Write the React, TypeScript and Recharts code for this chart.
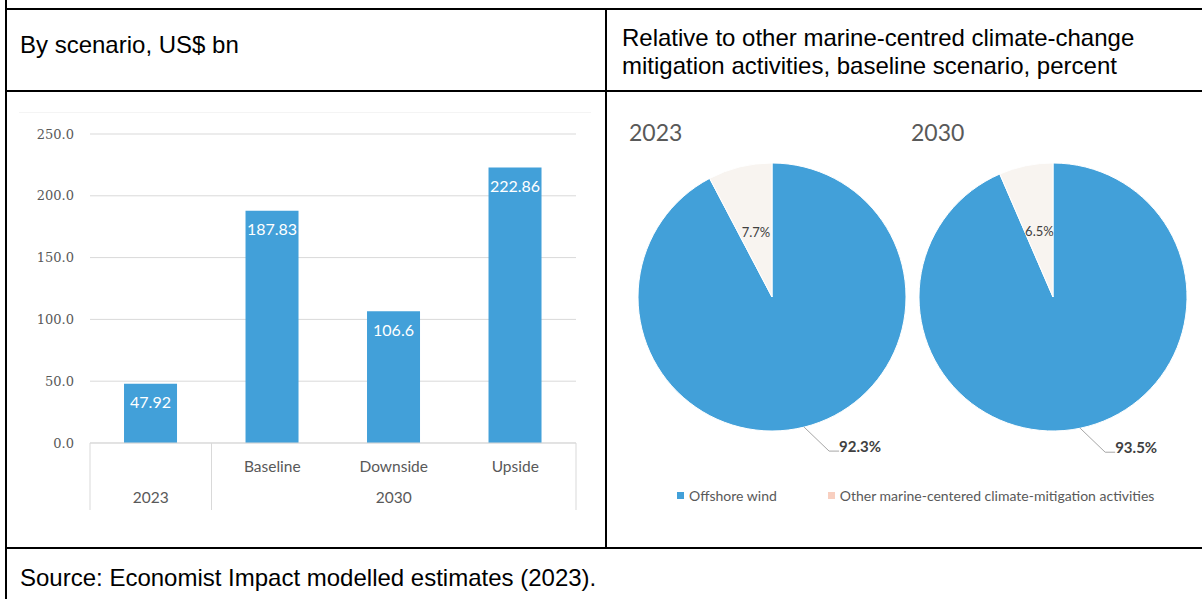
import React from 'react';
import {
  BarChart, Bar, XAxis, YAxis, CartesianGrid, LabelList,
  PieChart, Pie, Cell, Legend,
} from 'recharts';

// bar chart: by scenario, US$ bn
const scenarios = ['', 'Baseline', 'Downside', 'Upside'];
const yearGroups = ['2023', '', '2030', ''];
const scenarioValues = [47.92, 187.83, 106.6, 222.86];
const yTicks = [0, 50, 100, 150, 200, 250];

// pie charts: share of marine-centred climate-change mitigation, percent
const pieYears = ['2023', '2030'];
const shareNames = ['Offshore wind', 'Other marine-centered climate-mitigation activities'];
const shares2023 = [92.3, 7.7];
const shares2030 = [93.5, 6.5];

const BLUE = '#42A0D9';
const CREAM = '#F8F4F0';
const PEACH = '#F8CFC0';
const GREY = '#595959';
const LINE = '#D9D9D9';
const CHART_FONT = 'Lato, "Open Sans", sans-serif';

const barData = scenarios.map((s, i) => ({ scenario: s, group: yearGroups[i], value: scenarioValues[i] }));
const pieData = [shares2023, shares2030].map((vals) =>
  vals.map((v, i) => ({ name: shareNames[i], value: v }))
);
const sliceColors = [BLUE, CREAM];
const legendColors = [BLUE, PEACH];

function ScenarioTick(props: any) {
  const { x, y, payload, index, width, visibleTicksCount } = props;
  const band = width / visibleTicksCount;
  const lines: number[] = [];
  if (index === 0) lines.push(x - band / 2, x + band / 2);
  if (index === visibleTicksCount - 1) lines.push(x + band / 2);
  return (
    <g>
      {lines.map((lx, k) => (
        <line key={k} x1={lx} x2={lx} y1={y - 2} y2={y + 65} stroke={LINE} strokeWidth={1} />
      ))}
      <text x={x} y={y + 21} textAnchor="middle" dominantBaseline="central"
        fill={GREY} fontSize={15.5} fontFamily={CHART_FONT}>
        {payload.value}
      </text>
    </g>
  );
}

function GroupTick(props: any) {
  const { x, y, payload } = props;
  return (
    <text x={x} y={y + 16} textAnchor="middle" dominantBaseline="central"
      fill={GREY} fontSize={15.5} fontFamily={CHART_FONT}>
      {payload.value}
    </text>
  );
}

function renderPieLabel(props: any) {
  const { cx, cy, midAngle, outerRadius, value, index } = props;
  const rad = Math.PI / 180;
  const text = `${Number(value).toFixed(1)}%`;
  if (index === 1) {
    const r = outerRadius * 0.5;
    const lx = cx + r * Math.cos(-midAngle * rad);
    const ly = cy + r * Math.sin(-midAngle * rad);
    return (
      <text x={lx} y={ly} textAnchor="middle" dominantBaseline="central"
        fill="#404040" fontSize={13} fontFamily={CHART_FONT}>
        {text}
      </text>
    );
  }
  const ex = cx + outerRadius * Math.cos(-midAngle * rad);
  const ey = cy + outerRadius * Math.sin(-midAngle * rad);
  const bx = ex + 25;
  const by = ey + 24;
  return (
    <g>
      <polyline points={`${ex},${ey} ${bx},${by} ${bx + 10},${by}`} fill="none" stroke="#A6A6A6" strokeWidth={1} />
      <text x={bx + 10} y={by - 5} textAnchor="start" dominantBaseline="central"
        fill="#404040" fontSize={15} fontWeight="bold" fontFamily={CHART_FONT}>
        {text}
      </text>
    </g>
  );
}

function PieLegend() {
  return (
    <div style={{ display: 'flex', justifyContent: 'flex-start', paddingLeft: 70, fontFamily: CHART_FONT, fontSize: 14, color: GREY, whiteSpace: 'nowrap' }}>
      {shareNames.map((n, i) => (
        <div key={n} style={{ display: 'flex', alignItems: 'center', marginRight: 51, flexShrink: 0 }}>
          <span style={{ display: 'inline-block', width: 7, height: 7, background: legendColors[i], marginRight: 5 }} />
          <span>{n}</span>
        </div>
      ))}
    </div>
  );
}

const hLine = (top: number, left = 5): React.CSSProperties => ({
  position: 'absolute', left, top, width: 1202 - left, height: 2, background: '#000',
});

export default function App() {
  return (
    <div style={{ position: 'absolute', left: 0, top: 0, width: 1202, height: 599, background: '#fff', overflow: 'hidden', fontFamily: '"Liberation Sans", Arial, sans-serif', color: '#000' }}>
      {/* table grid */}
      <div style={{ position: 'absolute', left: 5, top: 0, width: 2, height: 599, background: '#000' }} />
      <div style={hLine(8)} />
      <div style={hLine(90)} />
      <div style={hLine(547)} />
      <div style={{ position: 'absolute', left: 605, top: 8, width: 2, height: 541, background: '#000' }} />

      {/* header cells */}
      <div style={{ position: 'absolute', left: 20, top: 31, fontSize: 24, lineHeight: '28px' }}>By scenario, US$ bn</div>
      <div style={{ position: 'absolute', left: 622, top: 24, fontSize: 24, lineHeight: '28px', width: 575 }}>
        Relative to other marine-centred climate-change<br />mitigation activities, baseline scenario, percent
      </div>

      {/* bar chart */}
      <div style={{ position: 'absolute', left: 19, top: 112, width: 572, height: 1, background: '#F4F4F4' }} />
      <div style={{ position: 'absolute', left: 7, top: 91 }}>
        <BarChart width={599} height={456} data={barData}
          margin={{ top: 43, right: 30, bottom: 36, left: 0 }} barCategoryGap="28%">
          <CartesianGrid vertical={false} stroke={LINE} />
          <YAxis domain={[0, 250]} ticks={yTicks} width={83} axisLine={false} tickLine={false}
            tickSize={0} tickMargin={16} tickFormatter={(v: number) => v.toFixed(1)}
            tick={{ fill: GREY, fontSize: 13, fontFamily: '"DejaVu Serif", serif' }} />
          <XAxis xAxisId={0} dataKey="scenario" height={36} interval={0} tickLine={false} tickSize={0}
            axisLine={{ stroke: LINE }} tick={<ScenarioTick />} />
          <XAxis xAxisId="group" dataKey="group" height={32} interval={0} tickLine={false} tickSize={0}
            axisLine={false} tick={<GroupTick />} />
          <Bar xAxisId={0} dataKey="value" fill={BLUE} isAnimationActive={false}>
            <LabelList dataKey="value" position="insideTop" offset={13} fill="#fff"
              fontSize={16} fontFamily={CHART_FONT} />
          </Bar>
        </BarChart>
      </div>

      {/* pie charts */}
      {pieYears.map((yr, i) => (
        <div key={yr} style={{ position: 'absolute', left: 629 + i * 282, top: 118, fontSize: 23, color: GREY, fontFamily: CHART_FONT }}>{yr}</div>
      ))}
      <div style={{ position: 'absolute', left: 607, top: 91 }}>
        <PieChart width={595} height={456}>
          {pieData.map((d, i) => (
            <Pie key={pieYears[i]} data={d} dataKey="value" nameKey="name"
              cx={160 + i * 281} cy={201} outerRadius={134} startAngle={90} endAngle={-270}
              stroke="#fff" strokeWidth={1} label={renderPieLabel} labelLine={false}
              isAnimationActive={false}>
              {d.map((_, k) => <Cell key={k} fill={sliceColors[k]} />)}
            </Pie>
          ))}
          <Legend content={<PieLegend />} wrapperStyle={{ position: 'absolute', top: 396, left: 0, width: 595 }} />
        </PieChart>
      </div>

      {/* source row */}
      <div style={{ position: 'absolute', left: 20, top: 564, fontSize: 24, lineHeight: '28px' }}>
        Source: Economist Impact modelled estimates (2023).
      </div>
    </div>
  );
}
